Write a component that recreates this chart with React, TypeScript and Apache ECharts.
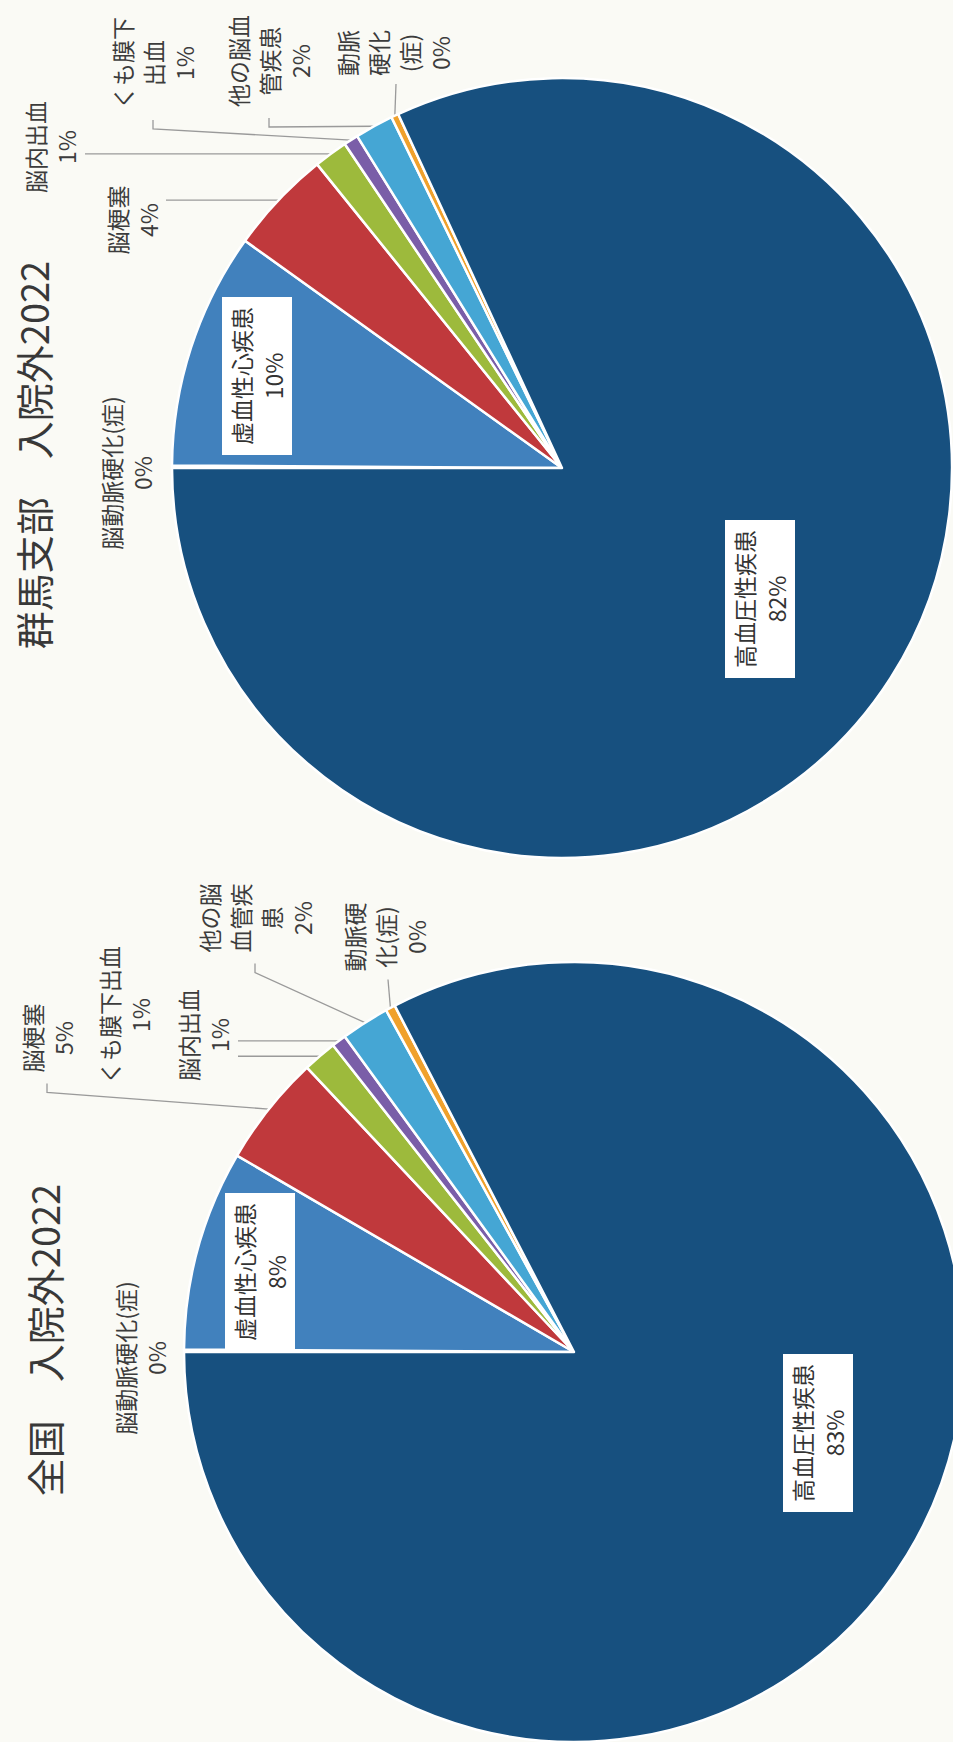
import React, { useEffect, useRef } from 'react';
import * as echarts from 'echarts';

// ---------- data ----------
const categories = ['脳動脈硬化(症)', '虚血性心疾患', '脳梗塞', '脳内出血', 'くも膜下出血', '他の脳血管疾患', '動脈硬化(症)', '高血圧性疾患'];
const zenkokuValues = [0.1, 8.3, 4.6, 1.4, 0.6, 2.0, 0.4, 82.6];
const gunmaValues = [0.1, 9.8, 4.3, 1.4, 0.6, 1.6, 0.3, 81.9];
const zenkokuLabelText = ['脳動脈硬化(症)', '虚血性心疾患', '脳梗塞', '脳内出血', 'くも膜下出血', '他の脳\n血管疾\n患', '動脈硬\n化(症)', '高血圧性疾患'];
const gunmaLabelText = ['脳動脈硬化(症)', '虚血性心疾患', '脳梗塞', '脳内出血', 'くも膜下\n出血', '他の脳血\n管疾患', '動脈\n硬化\n(症)', '高血圧性疾患'];
const titles = ['全国　入院外2022', '群馬支部　入院外2022'];

// ---------- style / layout ----------
const colors = ['#a5a5a5', '#4181bd', '#c0393c', '#9dba3c', '#7a5ea8', '#45a6d4', '#f0a12c', '#17507f'];
const PAGE_W = 953;
const PAGE_H = 1742;
const CHART_W = 1742;
const CHART_H = 953;
const FONT = "'Noto Sans CJK JP', 'Noto Sans', sans-serif";
const pieCenters = [[390, 574], [1274, 562]];
const pieRadius = 390;
const titlePos = [[402, 43], [1287, 32]];
const insideIdx = [1, 7];
const zenkokuLabelPos = [[384, 140], [470, 260], [704, 47], [707, 203], [727, 124], [824, 255], [805, 385], [309, 818]];
const gunmaLabelPos = [[1269, 126], [1366, 257], [1522, 132], [1595, 50], [1679, 153], [1681, 269], [1689, 393], [1143, 760]];
const zenkokuLeader = ['none', 'none', 'side', 'below', 'below', 'side', 'direct', 'none'];
const gunmaLeader = ['none', 'none', 'below', 'below', 'side', 'side', 'direct', 'none'];
const zenkokuGap = [0, 0, 0, 4, 83, 0, 0, 0];
const gunmaGap = [0, 0, 3, 4, 0, 0, 0, 0];

function makeSeries(idx: number, values: number[], labelText: string[], labelPos: number[][], leader: string[], gaps: number[]) {
  return {
    type: 'pie',
    center: pieCenters[idx],
    radius: pieRadius,
    startAngle: 90,
    clockwise: true,
    avoidLabelOverlap: false,
    percentPrecision: 0,
    itemStyle: { borderColor: '#ffffff', borderWidth: 2.5 },
    label: {
      show: true,
      position: 'outside',
      formatter: (p: any) => `${labelText[p.dataIndex]}\n${p.percent}%`,
      color: '#3c3c3c',
      fontSize: 23,
      lineHeight: 31,
      fontFamily: FONT,
    },
    labelLine: { show: true, length: 10, length2: 10, lineStyle: { color: '#9a9a9a', width: 1.3 } },
    emphasis: { disabled: true },
    data: categories.map((name, i) => {
      const inside = insideIdx.includes(i);
      const item: any = {
        name,
        value: values[i],
        itemStyle: { color: colors[i] },
        labelLine: { show: leader[i] !== 'none' },
      };
      if (inside) {
        item.label = { position: 'inside', backgroundColor: '#ffffff', padding: [3, 10], lineHeight: 32, color: '#333333' };
      }
      return item;
    }),
    labelLayout: (params: any) => {
      const i = params.dataIndex;
      const [x, y] = labelPos[i];
      const out: any = { x, y, align: 'center', verticalAlign: 'middle' };
      const pts = params.labelLinePoints;
      const r = params.labelRect;
      if (pts && pts.length && leader[i] !== 'none' && r) {
        const a = pts[0];
        const left = x - r.width / 2;
        const bottom = y + r.height / 2;
        if (leader[i] === 'below') {
          out.labelLinePoints = [a, [a[0], bottom + gaps[i]]];
        } else if (leader[i] === 'side') {
          out.labelLinePoints = [a, [left - 20, y], [left - 11, y]];
        } else {
          out.labelLinePoints = [a, [left - 8, y + 3]];
        }
      }
      return out;
    },
  };
}

export default function App() {
  const ref = useRef<HTMLDivElement>(null);
  useEffect(() => {
    document.body.style.overflow = 'hidden';
    const chart = echarts.init(ref.current!, null, { renderer: 'svg' });
    chart.setOption({
      animation: false,
      backgroundColor: 'transparent',
      graphic: titles.map((t, i) => ({
        type: 'text',
        x: titlePos[i][0],
        y: titlePos[i][1],
        style: {
          text: t,
          fontSize: 38,
          fontFamily: FONT,
          fill: '#383838',
          align: 'center',
          verticalAlign: 'middle',
        },
      })),
      series: [
        makeSeries(0, zenkokuValues, zenkokuLabelText, zenkokuLabelPos, zenkokuLeader, zenkokuGap),
        makeSeries(1, gunmaValues, gunmaLabelText, gunmaLabelPos, gunmaLeader, gunmaGap),
      ],
    });
    return () => chart.dispose();
  }, []);
  return (
    <div style={{ position: 'absolute', left: 0, top: 0, width: PAGE_W, height: PAGE_H, overflow: 'hidden', background: '#fafaf5' }}>
      <div
        ref={ref}
        style={{
          position: 'absolute',
          left: 0,
          top: 0,
          width: CHART_W,
          height: CHART_H,
          transformOrigin: '0 0',
          transform: `translate(0px, ${PAGE_H}px) rotate(-90deg)`,
        }}
      />
    </div>
  );
}
